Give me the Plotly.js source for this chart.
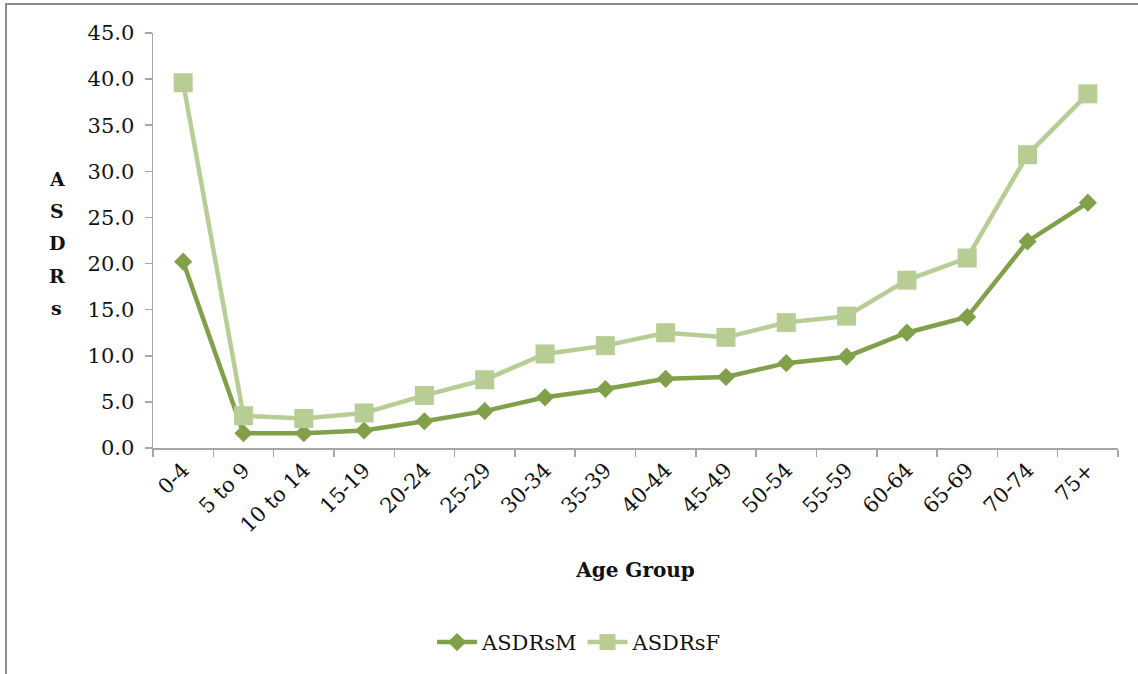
<!DOCTYPE html>
<html>
<head>
<meta charset="utf-8">
<script src="https://cdn.plot.ly/plotly-3.0.1.min.js"></script>
<style>
  html, body { margin: 0; padding: 0; width: 1138px; height: 674px; overflow: hidden; background: #fff; }
  #chart { position: absolute; left: 0; top: 0; width: 1138px; height: 674px; }
  #frame { position: absolute; left: 5px; top: 3px; width: 2000px; height: 2000px;
           border-top: 2px solid #8c8c8c; border-left: 2px solid #8c8c8c; pointer-events: none; }
</style>
</head>
<body>
<div id="chart"></div>
<div id="frame"></div>
<script>
const ageGroups = ["0-4", "5 to 9", "10 to 14", "15-19", "20-24", "25-29", "30-34", "35-39",
                   "40-44", "45-49", "50-54", "55-59", "60-64", "65-69", "70-74", "75+"];
const asdrsM = [20.2, 1.6, 1.6, 1.9, 2.9, 4.0, 5.5, 6.4, 7.5, 7.7, 9.2, 9.9, 12.5, 14.2, 22.4, 26.6];
const asdrsF = [39.6, 3.5, 3.2, 3.8, 5.7, 7.4, 10.2, 11.1, 12.5, 12.0, 13.6, 14.3, 18.2, 20.6, 31.8, 38.4];
const yTitle = "ASDRs";
const xTitle = "Age Group";

const serif = "DejaVu Serif, Liberation Serif, serif";
const darkGreen = "#80a04a";
const lightGreen = "#b7cd94";

const traces = [
  {
    x: ageGroups, y: asdrsM, name: "ASDRsM", type: "scatter", mode: "lines+markers",
    line: { color: darkGreen, width: 4.5 },
    marker: { symbol: "diamond", size: 14, color: darkGreen }
  },
  {
    x: ageGroups, y: asdrsF, name: "ASDRsF", type: "scatter", mode: "lines+markers",
    line: { color: lightGreen, width: 4.5 },
    marker: { symbol: "square", size: 19, color: lightGreen }
  }
];

// stacked vertical letters of the y-axis title
const letters = yTitle.split("");
const annotations = letters.map((ch, i) => ({
  text: "<b>" + ch + "</b>", xref: "paper", yref: "paper",
  x: -0.1, y: 0.648 - i * 0.0775, xanchor: "center", yanchor: "middle",
  showarrow: false, font: { family: serif, size: 19, color: "#111" }
}));

const layout = {
  width: 1138, height: 674,
  margin: { l: 153, r: 20, t: 33, b: 225 },
  paper_bgcolor: "#fff", plot_bgcolor: "#fff",
  showlegend: true,
  legend: {
    orientation: "h", x: 0.442, xanchor: "center", y: -0.465, yanchor: "middle",
    font: { family: serif, size: 21, color: "#111" }, itemwidth: 40
  },
  xaxis: {
    type: "category", range: [-0.5, 15.5],
    showline: true, linecolor: "#a6a6a6", linewidth: 1.5,
    ticks: "outside", tickson: "boundaries", ticklen: 7, tickcolor: "#a6a6a6", tickwidth: 1.5,
    tickangle: -45, showgrid: false, zeroline: false,
    tickfont: { family: serif, size: 21, color: "#111" },
    title: { text: "<b>" + xTitle + "</b>", font: { family: serif, size: 20, color: "#111" }, standoff: 26 }
  },
  yaxis: {
    range: [0, 45], dtick: 5, tickformat: ".1f",
    showline: true, linecolor: "#a6a6a6", linewidth: 1.5,
    ticks: "outside", ticklen: 7, tickcolor: "#a6a6a6", tickwidth: 1.5,
    showgrid: false, zeroline: false, ticklabelstandoff: 6,
    tickfont: { family: serif, size: 21, color: "#111" }
  },
  annotations: annotations
};

Plotly.newPlot("chart", traces, layout, { displayModeBar: false, staticPlot: true });
</script>
</body>
</html>
